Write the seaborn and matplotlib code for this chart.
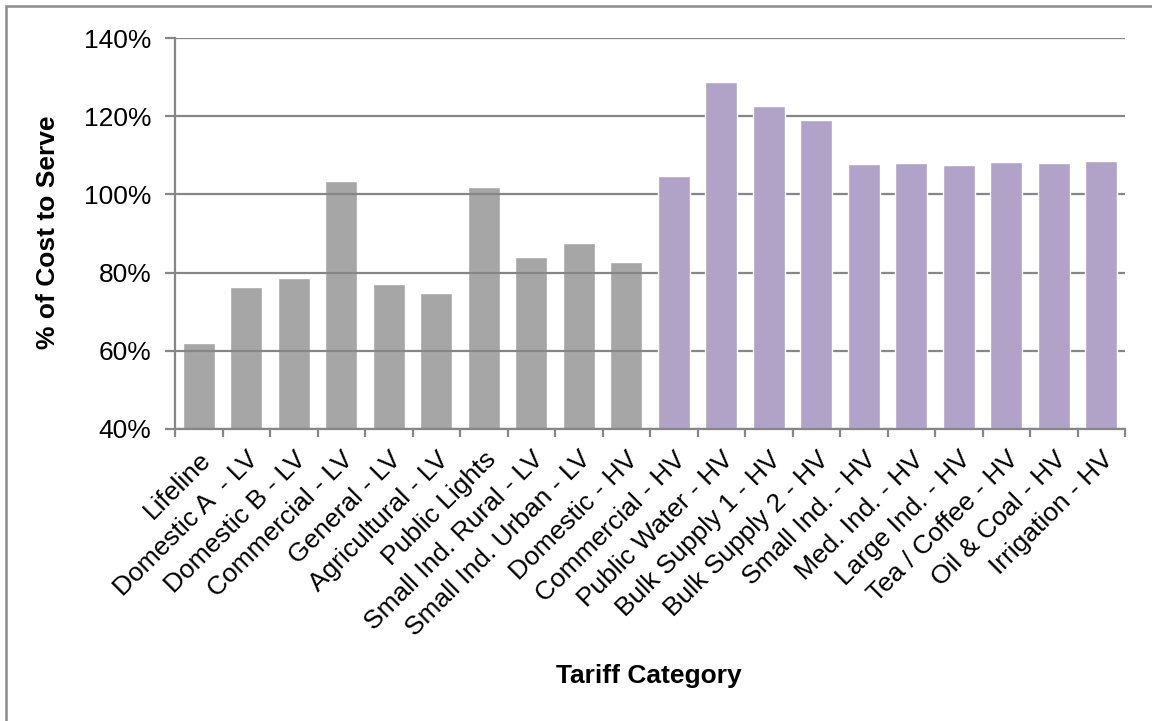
import matplotlib
matplotlib.use("Agg")
import matplotlib.pyplot as plt
from matplotlib.patches import Rectangle
from matplotlib.ticker import FuncFormatter, FixedLocator
import seaborn as sns
import pandas as pd
import numpy as np

categories = ["Lifeline", "Domestic A  - LV", "Domestic B - LV", "Commercial - LV",
              "General - LV", "Agricultural - LV", "Public Lights", "Small Ind. Rural - LV",
              "Small Ind. Urban - LV", "Domestic - HV", "Commercial - HV", "Public Water - HV",
              "Bulk Supply 1 - HV", "Bulk Supply 2 - HV", "Small Ind. - HV", "Med. Ind. - HV",
              "Large Ind. - HV", "Tea / Coffee - HV", "Oil & Coal - HV", "Irrigation - HV"]
values = [61.9, 76.2, 78.6, 103.3, 77.0, 74.8, 101.9, 84.0, 87.6, 82.6,
          104.8, 128.8, 122.7, 119.1, 107.8, 108.1, 107.6, 108.3, 108.1, 108.6]
groups = ["LV"] * 10 + ["HV"] * 10
y_ticks = [40, 60, 80, 100, 120, 140]

GRAY = "#A6A6A6"
PURPLE = "#B1A2C7"
LINE = "#868686"

sns.set_theme(style="white")
plt.rcParams["font.family"] = ["Liberation Sans", "DejaVu Sans"]
plt.rcParams["text.color"] = "black"
plt.rcParams["axes.labelcolor"] = "black"
plt.rcParams["xtick.color"] = "black"
plt.rcParams["ytick.color"] = "black"

df = pd.DataFrame({"cat": categories, "val": values, "grp": groups})

fig = plt.figure(figsize=(11.52, 7.21), dpi=100)
ax = fig.add_axes([175 / 1152, 1 - 429 / 721, (1125 - 175) / 1152, (429 - 38) / 721])

sns.barplot(data=df, x="cat", y="val", hue="grp", palette={"LV": GRAY, "HV": PURPLE},
            dodge=False, width=0.67, legend=False, ax=ax, saturation=1)

for p in ax.patches:
    fc = p.get_facecolor()
    if abs(fc[0] - fc[1]) < 0.01:
        p.set_zorder(1)
    else:
        p.set_zorder(2.2)

ax.set_axisbelow("line")
ax.set_ylim(40, 140)
ax.set_xlim(-0.5, len(categories) - 0.5)
ax.yaxis.set_major_locator(FixedLocator(y_ticks))
ax.yaxis.set_major_formatter(FuncFormatter(lambda v, _: f"{v:.0f}%"))
ax.grid(axis="y", color=LINE, linewidth=1.6)
ax.grid(axis="x", visible=False)

for s in ["top", "right"]:
    ax.spines[s].set_visible(False)
for s in ["left", "bottom"]:
    ax.spines[s].set_color(LINE)
    ax.spines[s].set_linewidth(1.6)

ax.set_xticks(np.arange(len(categories)))
ax.set_xticklabels(categories, rotation=45, ha="right", rotation_mode="anchor", fontsize=19)
ax.set_xticks(np.arange(len(categories) + 1) - 0.5, minor=True)
ax.tick_params(axis="x", which="major", length=0, pad=13, colors="black")
ax.tick_params(axis="x", which="minor", length=6, width=1.6, color=LINE, bottom=True)
ax.tick_params(axis="y", length=7, width=1.6, color=LINE, left=True, labelsize=19,
               pad=10, labelcolor="black")

ax.set_xlabel("Tariff Category", fontsize=19, fontweight="bold", color="black")
ax.set_ylabel("% of Cost to Serve", fontsize=19, fontweight="bold", color="black")
ax.xaxis.set_label_coords(649 / 1152, 1 - 664 / 721, transform=fig.transFigure)
ax.yaxis.set_label_coords(60 / 1152, 1 - 232 / 721, transform=fig.transFigure)

frame = Rectangle((6 / 1152, -0.2), 2.0, (1 - 6 / 721) + 0.2, transform=fig.transFigure,
                  fill=False, edgecolor="#8C8C8C", linewidth=1.8, zorder=0)
fig.patches.append(frame)

fig.savefig("out.png", dpi=100)
